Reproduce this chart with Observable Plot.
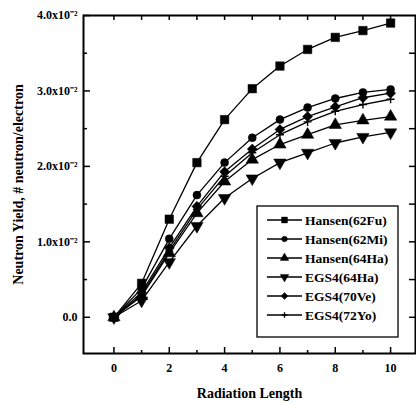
<!DOCTYPE html>
<html>
<head>
<meta charset="utf-8">
<script src="https://cdn.jsdelivr.net/npm/d3@7"></script>
<script src="https://cdn.jsdelivr.net/npm/@observablehq/plot@0.6"></script>
<style>
  html, body { margin: 0; padding: 0; background: #fff; }
  #wrap { position: relative; width: 416px; height: 403px; }
  #wrap svg { display: block; }
</style>
</head>
<body>
<div id="wrap"></div>
<script>
// ---- data (values in units of 1e-2 neutron/electron) ----
const radiationLength = [0, 1, 2, 3, 4, 5, 6, 7, 8, 9, 10];
const hansen62Fu = [0, 0.45, 1.30, 2.05, 2.62, 3.03, 3.33, 3.55, 3.71, 3.80, 3.90];
const hansen62Mi = [0, 0.38, 1.04, 1.62, 2.05, 2.38, 2.62, 2.78, 2.90, 2.98, 3.02];
const hansen64Ha = [0, 0.28, 0.85, 1.38, 1.80, 2.09, 2.29, 2.42, 2.55, 2.61, 2.66];
const egs4_64Ha  = [0, 0.22, 0.73, 1.21, 1.58, 1.84, 2.05, 2.18, 2.31, 2.39, 2.45];
const egs4_70Ve  = [0, 0.33, 0.92, 1.47, 1.93, 2.23, 2.49, 2.66, 2.79, 2.91, 2.97];
const egs4_72Yo  = [0, 0.30, 0.88, 1.43, 1.87, 2.18, 2.42, 2.59, 2.73, 2.82, 2.89];
const seriesNames = ["Hansen(62Fu)", "Hansen(62Mi)", "Hansen(64Ha)", "EGS4(64Ha)", "EGS4(70Ve)", "EGS4(72Yo)"];
const seriesValues = [hansen62Fu, hansen62Mi, hansen64Ha, egs4_64Ha, egs4_70Ve, egs4_72Yo];
const xTickLabels = [0, 2, 4, 6, 8, 10];
const xMinorTicks = [1, 3, 5, 7, 9];
const yTickLabels = [0, 1, 2, 3, 4];
const yAllTicks = [0, 0.5, 1, 1.5, 2, 2.5, 3, 3.5];

// ---- symbols ----
const sqrt3 = Math.sqrt(3);
const triDown = { draw(ctx, size) { const y = -Math.sqrt(size / (sqrt3 * 3)); ctx.moveTo(0, -y * 2); ctx.lineTo(-sqrt3 * y, y); ctx.lineTo(sqrt3 * y, y); ctx.closePath(); } };
const triUp = { draw(ctx, size) { const y = -Math.sqrt(size / (sqrt3 * 3)); ctx.moveTo(0, y * 2); ctx.lineTo(-sqrt3 * y, -y); ctx.lineTo(sqrt3 * y, -y); ctx.closePath(); } };
const diamond = { draw(ctx, size) { const h = Math.sqrt(size / 2); ctx.moveTo(0, -h); ctx.lineTo(h, 0); ctx.lineTo(0, h); ctx.lineTo(-h, 0); ctx.closePath(); } };
const square = { draw(ctx, size) { const w = Math.sqrt(size), h = w / 2; ctx.rect(-h, -h, w, w); } };
const circle = { draw(ctx, size) { const r = Math.sqrt(size / Math.PI); ctx.moveTo(r, 0); ctx.arc(0, 0, r, 0, 2 * Math.PI); } };
const plus = { draw(ctx, size) { const r = Math.sqrt(size / Math.PI); ctx.moveTo(-r, 0); ctx.lineTo(r, 0); ctx.moveTo(0, -r); ctx.lineTo(0, r); } };
const symbols = [square, circle, triUp, triDown, diamond, plus];
const symR = [4.8, 4.0, 4.6, 4.6, 4.0, 4.0];

const rows = [];
seriesNames.forEach((s, i) => radiationLength.forEach((x, j) => rows.push({ series: s, x, y: seriesValues[i][j] })));

const xDomain = [-1.1, 10.9];
const yDomain = [-0.48, 4.0];
const W = 416, H = 403, mL = 83, mR = 1, mT = 15, mB = 50;
const pxX = (W - mL - mR) / (xDomain[1] - xDomain[0]);
const pxY = (H - mT - mB) / (yDomain[1] - yDomain[0]);

const marks = [];
// inward tick marks
marks.push(Plot.ruleX(xTickLabels, { x: d => d, y1: yDomain[0], y2: yDomain[0] + 6 / pxY, stroke: "black", strokeWidth: 1.5 }));
marks.push(Plot.ruleX(xMinorTicks, { x: d => d, y1: yDomain[0], y2: yDomain[0] + 3 / pxY, stroke: "black", strokeWidth: 1.5 }));
marks.push(Plot.ruleX(radiationLength, { x: d => d, y1: yDomain[1], y2: yDomain[1] - 5 / pxY, stroke: "black", strokeWidth: 1.5 }));
marks.push(Plot.ruleY(yTickLabels, { y: d => d, x1: xDomain[0], x2: xDomain[0] + 7 / pxX, stroke: "black", strokeWidth: 1.5 }));
marks.push(Plot.ruleY(yAllTicks.filter(d => !yTickLabels.includes(d)), { y: d => d, x1: xDomain[0], x2: xDomain[0] + 4 / pxX, stroke: "black", strokeWidth: 1.5 }));
marks.push(Plot.ruleY(yAllTicks, { y: d => d, x1: xDomain[1], x2: xDomain[1] - 6 / pxX, stroke: "black", strokeWidth: 1.5 }));
marks.push(Plot.frame({ stroke: "black", strokeWidth: 2 }));
// series
marks.push(Plot.line(rows, { x: "x", y: "y", z: "series", stroke: "black", strokeWidth: 1.3 }));
seriesNames.forEach((s, i) => {
  const isPlus = symbols[i] === plus;
  marks.push(Plot.dot(rows.filter(r => r.series === s), {
    x: "x", y: "y", r: symR[i], symbol: symbols[i],
    fill: isPlus ? "none" : "black", stroke: "black", strokeWidth: isPlus ? 1.4 : 0.5
  }));
});

const chart = Plot.plot({
  width: W, height: H,
  marginLeft: mL, marginRight: mR, marginTop: mT, marginBottom: mB,
  style: { fontFamily: "'Liberation Serif', 'Times New Roman', serif", fontWeight: "bold", fontSize: "12px", background: "white", color: "black" },
  x: { domain: xDomain, ticks: xTickLabels, tickSize: 0, tickPadding: 10, label: "Radiation Length", labelAnchor: "center", labelOffset: 44, labelArrow: "none" },
  y: { domain: yDomain, ticks: yTickLabels, tickSize: 0, tickPadding: 6,
       tickFormat: d => d === 0 ? "0.0" : d.toFixed(1) + "x10\u207B\u00B2",
       label: "Neutron Yield, # neutron/electron", labelAnchor: "center", labelOffset: 70, labelArrow: "none" },
  marks
});
document.getElementById("wrap").appendChild(chart);

// enlarge axis titles
d3.select(chart).selectAll("[aria-label='x-axis label'] text, [aria-label='y-axis label'] text")
  .style("font-size", "14px");

// ---- legend overlay ----
const lg = d3.select("#wrap").append("svg")
  .attr("width", 144).attr("height", 133)
  .style("position", "absolute").style("left", "256px").style("top", "205px");
lg.append("rect").attr("x", 1).attr("y", 1).attr("width", 141).attr("height", 131)
  .attr("fill", "white").attr("stroke", "black").attr("stroke-width", 1.3);
seriesNames.forEach((s, i) => {
  const cy = 15 + i * 19;
  const g = lg.append("g");
  g.append("line").attr("x1", 11).attr("x2", 46).attr("y1", cy).attr("y2", cy).attr("stroke", "black").attr("stroke-width", 1.3);
  const isPlus = symbols[i] === plus;
  const rr = symR[i] * 0.7;
  g.append("path").attr("transform", `translate(28.5,${cy})`)
    .attr("d", d3.symbol(symbols[i], Math.PI * rr * rr)())
    .attr("fill", isPlus ? "none" : "black").attr("stroke", "black").attr("stroke-width", isPlus ? 1.3 : 0.4);
  g.append("text").attr("x", 49).attr("y", cy).attr("dy", "0.35em")
    .attr("font-family", "'Liberation Serif', 'Times New Roman', serif").attr("font-weight", "bold").attr("font-size", "13.5px")
    .text(s);
});
</script>
</body>
</html>
